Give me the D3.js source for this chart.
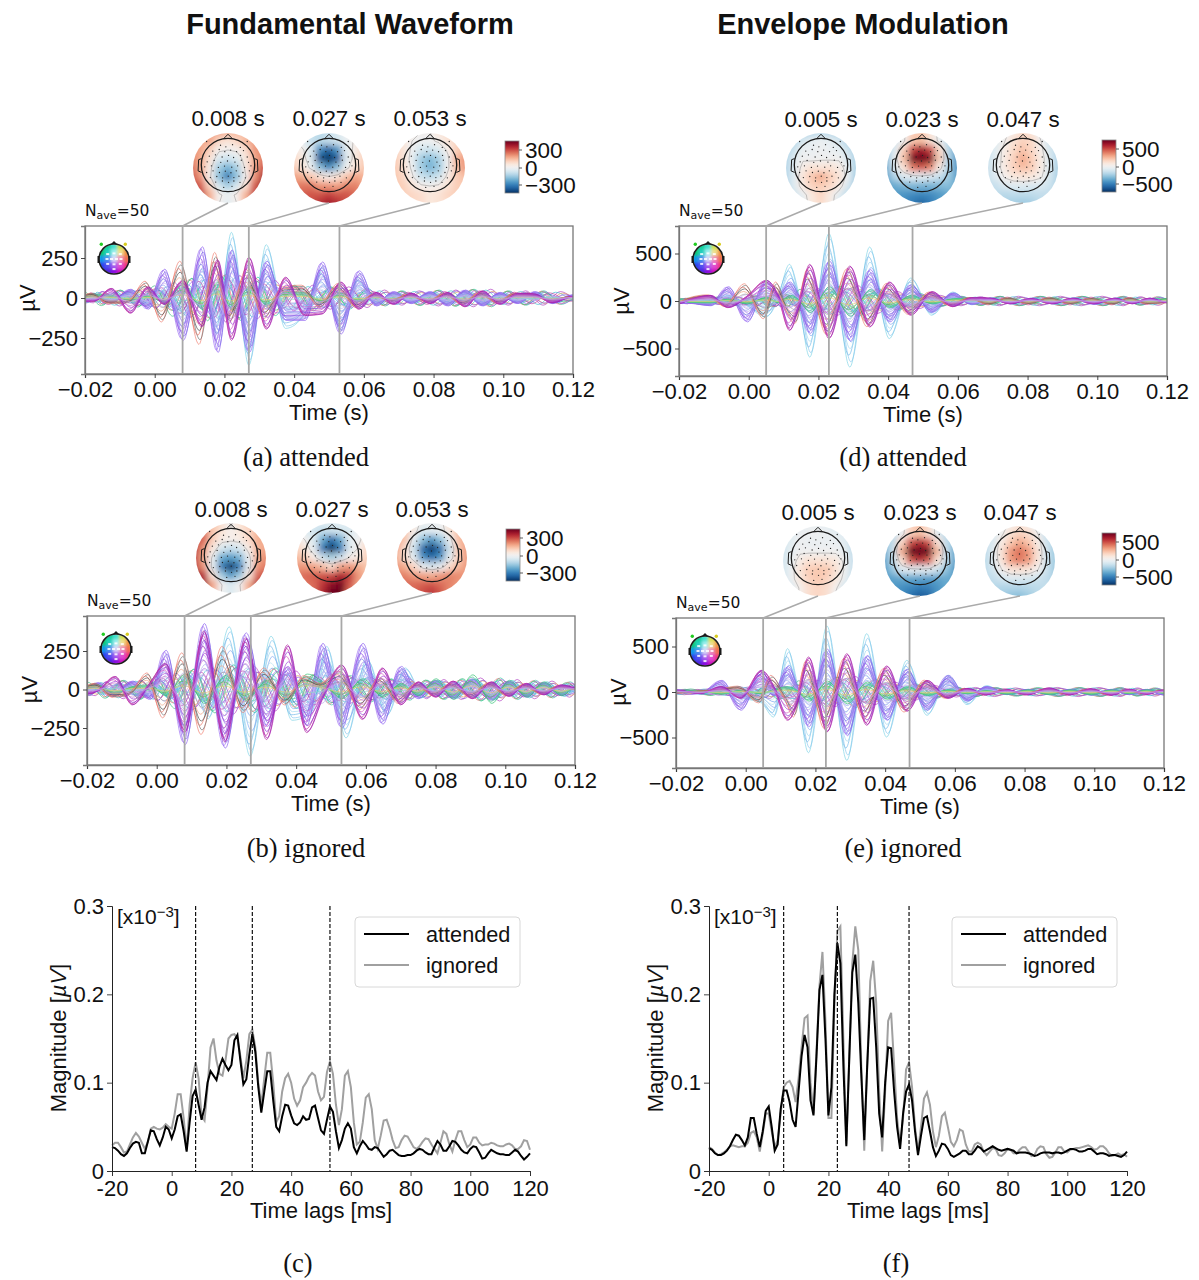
<!DOCTYPE html>
<html>
<head>
<meta charset="utf-8">
<script src="https://cdn.jsdelivr.net/npm/d3@7"></script>
<style>
  body { margin: 0; background: #fff; }
  text { fill: #111; }
</style>
</head>
<body>
<div id="chart"></div>
<script>
// ---- magnitude traces (x10^-3), one value per ms from -20 to 120 ----
const attendedF0 = [
  27,26,23,19,17,20,26,31,33,32,
  20,20,33,46,45,36,29,38,50,47,
  37,47,62,64,45,22,55,85,92,75,
  58,72,100,113,108,103,118,127,120,114,
  120,148,154,125,98,104,132,155,135,95,
  66,90,113,113,80,50,45,62,75,74,
  63,54,52,55,62,58,59,72,74,60,
  46,42,58,73,67,45,26,35,48,54,
  48,27,20,28,34,30,25,24,27,26,
  21,16,19,23,24,21,18,17,17,18,
  18,20,23,25,24,21,19,19,27,34,
  30,23,23,28,34,33,29,24,21,20,
  25,28,27,21,14,15,20,24,22,20,
  19,19,18,18,21,24,22,17,13,16,
  20];
const ignoredF0 = [
  29,32,32,27,21,22,30,38,43,39,
  32,25,33,48,50,48,47,49,53,50,
  48,65,87,87,60,24,75,105,123,105,
  62,57,95,140,150,125,110,108,125,150,
  154,155,150,130,105,125,155,160,140,100,
  75,105,134,134,100,55,62,90,105,110,
  100,82,74,80,95,100,107,111,108,90,
  80,84,112,124,110,75,52,70,108,113,
  95,55,30,33,55,83,87,70,35,25,
  40,57,58,48,35,26,27,35,40,39,
  33,27,25,28,33,37,36,30,25,20,
  32,45,42,30,22,35,45,45,35,27,
  30,38,38,32,29,30,30,32,31,29,
  28,28,30,31,29,25,25,28,35,34,
  24];
const attendedEnv = [
  26,24,20,18,18,20,23,28,35,41,
  40,35,29,38,60,60,42,27,45,68,
  73,50,23,30,70,91,91,78,58,50,
  90,130,154,140,80,63,130,205,222,150,
  63,95,200,258,235,120,28,130,225,245,
  190,110,35,120,195,196,140,65,38,100,
  140,139,90,50,25,65,90,98,80,45,
  18,40,60,62,45,27,17,23,31,30,
  25,18,16,18,20,23,23,19,19,23,
  28,26,22,24,26,28,26,24,23,24,
  25,24,23,20,21,21,21,20,19,17,
  18,20,21,21,21,20,21,21,20,21,
  23,25,25,24,22,22,23,25,25,22,
  19,20,20,19,17,18,18,17,16,18,
  22];
const ignoredEnv = [
  27,25,21,18,19,21,24,28,29,28,
  27,28,28,32,43,45,38,22,42,65,
  65,45,27,35,65,95,100,102,95,78,
  105,140,173,176,100,65,135,210,248,170,
  60,60,190,272,277,150,30,130,235,277,
  250,120,23,120,215,238,190,90,22,90,
  170,179,120,60,30,60,115,123,95,50,
  22,50,82,89,75,45,27,40,62,66,
  50,33,28,35,47,45,30,22,22,30,
  32,30,22,18,22,26,25,18,17,20,
  25,24,20,20,24,27,27,22,17,18,
  25,28,27,19,15,16,21,27,27,22,
  21,24,25,26,26,27,28,29,27,24,
  25,28,28,25,20,17,18,20,18,19,
  16];

// ---- butterfly plots: turning points (ms) and channel-family amplitudes (uV) read at them ----
const knotsA = [-20,-17.5,-12.5,-7,-2,2.7,8,13.5,18,22,27,32,37.5,43,48,53.3,58.5,63.5,68.5,73.5,79,84,89,94,99,104,109,114,120];
const lavenderA = [-25,25,-30,55,-70,180,-265,320,-340,300,-340,230,-140,-140,225,-225,170,-50,40,-35,40,-50,50,-50,35,-35,40,-35,20];
const skyA = [-20,20,-25,45,-40,50,-100,180,-220,410,-420,333,-190,-100,190,-200,130,-40,30,-30,35,-40,45,-45,30,-30,30,-30,15];
const magentaA = [-20,-20,60,-95,70,-40,110,-180,240,-265,255,-195,130,-110,-100,100,-70,35,-40,30,-35,35,-55,45,-40,30,25,-30,10];
const redA = [15,30,-35,-30,105,-150,230,-290,285,-160,180,-130,70,80,-60,90,-60,25,-20,25,-25,30,-40,35,-30,30,25,-20,10];
const greenA = [10,25,15,-15,15,-30,85,-70,100,-75,70,-45,40,35,-30,30,-20,15,-20,20,-25,30,-30,30,-25,20,20,-15,5];
const bandA = [30,-40,50,-50,60,-80,120,-130,150,-140,130,-110,80,-80,70,-70,60,-50,45,-45,50,-50,55,-55,45,-45,45,-40,25];

const knotsB = [-20,-17,-12,-7,-2,2.5,8,13.5,19.5,25.5,31.5,37.5,43,47.5,53,59,64.7,70,75,80,85,90.5,96,101,106,111,116,120];
const lavenderB = [-30,45,-40,55,-65,255,-357,428,-380,368,-240,150,-230,300,-250,300,-225,150,-60,60,-60,70,-70,55,-50,45,-40,20];
const skyB = [15,-20,35,-40,50,-60,120,-190,407,-433,346,-200,-150,280,-315,200,-170,140,-50,55,-50,60,-60,50,-45,40,-40,15];
const magentaB = [-30,-10,85,-100,40,170,-280,380,-340,335,-325,290,-280,-60,160,-195,140,-100,50,-50,55,-60,50,-45,40,-35,30,10];
const redB = [20,40,-50,-30,108,-184,238,-292,280,-150,140,-100,90,40,120,-130,80,-90,40,-40,40,-50,45,-40,35,-30,25,5];
const greenB = [25,30,-30,20,30,-40,100,-90,90,-70,60,-70,100,50,-60,70,-50,40,-40,70,-65,95,-90,60,-50,50,-40,15];
const bandB = [40,-50,60,-60,70,-90,130,-140,160,-150,140,-120,100,-100,90,-80,70,-70,60,-65,65,-75,75,-65,60,-55,50,-45];

const knotsD = [-20,-17,-11,-6,-0.5,5,8.5,11.7,14,17.5,23,29,34.7,40.3,46.5,52.5,58.5,64,69.5,75,81,87,93,99,105,110,115,120];
const lavenderD = [-25,-25,-50,150,-220,218,60,200,60,-340,420,-420,330,-220,170,-120,85,-35,30,-30,30,-30,30,-35,30,-25,30,-15];
const skyD = [-15,-20,-40,60,-50,-168,50,386,100,-590,709,-695,568,-396,242,-150,95,-40,35,-30,30,-30,35,-30,30,-25,25,-15];
const magentaD = [-25,15,60,-70,50,218,50,-310,-100,386,-396,368,-274,200,-150,100,-60,35,30,-30,25,-30,30,-30,30,-30,30,-20];
const redD = [-30,25,65,-60,182,-186,200,-120,-238,330,-350,340,-270,185,-140,95,-50,35,-35,35,-30,35,-30,30,-35,35,-30,-15];
const greenD = [15,-15,-20,20,-30,40,-20,60,20,-120,150,-160,120,-70,60,-30,25,30,-35,30,-30,35,-30,30,-25,25,-25,30];
const bandD = [30,-30,35,-45,50,-60,70,-70,60,-130,150,-160,130,-100,80,-60,50,-45,50,-50,50,-50,50,-50,50,-45,45,-30];

const knotsE = [-20,-13,-7,-1.5,4.5,8,12,14.5,18,23.3,29,34.7,40.4,46.2,52,58,63.5,69,75,81,87,93,99,105,110,115,120];
const lavenderE = [25,-20,128,-200,238,-40,280,60,-380,470,-480,400,-310,250,-200,183,-100,60,-25,30,-30,30,-35,30,-30,30,-35];
const skyE = [20,-25,60,-60,-120,-275,476,100,-667,725,-751,641,-495,348,-256,183,-139,70,-30,30,-30,30,-35,30,-30,25,-30];
const magentaE = [20,-15,60,-70,238,60,-311,-150,385,-440,421,-366,286,-212,128,-70,40,-30,25,-30,45,-30,35,-35,30,-25,20];
const redE = [-10,10,30,65,-120,183,-80,-275,340,-400,370,-300,260,-220,130,-70,40,-25,20,-20,35,-25,30,-30,20,-15,15];
const greenE = [10,15,-25,20,-20,30,60,20,-100,120,-130,110,-80,60,-40,25,-20,15,-25,25,-30,25,-30,25,-20,25,-15];
const bandE = [30,-35,40,-55,70,-70,80,60,-130,160,-170,140,-110,90,-70,55,-50,50,-45,45,-50,50,-50,50,-45,45,-35];

// channel families: relative size, small time offset (ms) and colour of each channel
const lavenderGains = [1,.96,.9,.84,.78,.72,.66,.6,.52,.45,.38,.3,.22,-.14,-.3];
const lavenderShifts = [.2,-.3,.4,0,-.4,.3,-.2,.5,0,-.3,.4,.1,-.5,.2,-.2];
const lavenderColors = ["#8a5cf0","#9b6cf2","#7f6ee8","#a77cf0","#8f4fe6","#b08cf2","#7b7fe8","#9a7cf0","#c0a4f4","#8fa0ee","#b4b0f2","#c8b8f6","#b8a8f0","#a8b8f0","#c0b0f0"];
const skyGains = [1,.92,.82,.72,.62,.5,.4,.3,.2,-.16,-.3];
const skyShifts = [0,.3,-.3,.1,.4,-.2,.3,-.4,.1,0,.3];
const skyColors = ["#7fd4e6","#8ac8ee","#70b8e8","#a0d8f0","#80a8f0","#b0e0ee","#6fa0ec","#c0e6f0","#90c0f0","#b8d8f4","#a8d8e8"];
const magentaGains = [1,.97,.92,.84,.74,.62,.5,.36,.24];
const magentaShifts = [0,.2,-.2,.1,-.3,.3,0,.2,-.2];
const magentaColors = ["#b020a0","#a018b0","#c030a0","#8a30d0","#d050c0","#a040d8","#c870d0","#b080e0","#c8a0e8"];
const redGains = [1,.9,.8,.7,.55,.4];
const redShifts = [-.8,-.5,-1.1,-.7,-.9,-.4];
const redColors = ["#f08070","#707070","#e87060","#4a4a4a","#f0a080","#a0a0a0"];
const greenGains = [1,.85,.7,.55,.4,.25,-.2];
const greenShifts = [.2,0,.4,-.3,.1,-.2,.3];
const greenColors = ["#30c070","#40c888","#50d0a8","#60c050","#90d890","#e0d070","#90d8c8"];
const bandGains = [1,.95,.85,.7,-1,-.9,-.75,-.6,.5,-.45,.8,-.8,.6,-.95];
const bandShifts = [2.6,2,3,1.4,2.4,1,3,-1.4,1.8,-2,-2.4,-.8,.8,-2.8];
const bandColors = ["#30c8a0","#e07070","#a060e8","#60b0f0","#b040c0","#40c0d0","#e0a060","#7060e0","#70d890","#f0a0c0","#9050d8","#c040a0","#50b8e8","#40c080"];

// ---- scalp maps: 9x9 potentials (uV), rows top to bottom ----
const mapA1 = [80,100,120,120,100,100,80,80,80, 100,110,120,60,40,60,100,120,120, 130,120,70,10,0,10,50,130,140, 150,110,40,-40,-60,-40,30,110,160, 170,110,20,-100,-140,-100,20,120,190, 190,130,10,-120,-210,-120,0,130,240, 220,180,60,-50,-100,-50,40,180,260, 240,220,110,10,-20,10,100,210,240, 200,200,100,0,-30,0,100,200,200];
const mapA2 = [-10,-60,-80,-80,-60,-40,-10,10,30, 10,-30,-60,-80,-70,-50,-20,10,40, 30,10,-40,-190,-240,-180,-30,20,60, 60,30,-40,-260,-340,-250,-40,30,70, 80,40,-10,-120,-190,-120,-10,40,80, 120,110,80,40,10,40,80,120,100, 140,160,160,130,130,120,150,150,120, 150,180,190,190,210,190,190,170,130, 130,170,190,230,250,230,190,160,120];
const mapA3 = [60,30,10,0,0,30,50,60,60, 60,30,0,-10,-10,10,40,60,70, 70,40,-10,-50,-60,-40,10,70,90, 80,40,-20,-100,-130,-100,-10,100,130, 80,50,-10,-100,-140,-110,-10,90,130, 80,60,10,-60,-80,-60,20,70,90, 80,70,40,10,0,10,40,70,80, 80,70,60,50,30,40,60,70,70, 70,70,60,50,30,40,50,60,60];
const mapB1 = [120,150,100,40,-10,40,80,80,80, 180,170,80,40,10,30,60,100,90, 210,170,70,20,10,20,50,110,110, 220,130,30,-50,-70,-50,20,100,120, 210,110,-20,-150,-170,-140,-20,110,140, 220,130,-30,-210,-290,-210,-30,130,160, 280,220,40,-100,-170,-110,30,170,210, 270,260,120,0,-40,0,110,230,230, 220,240,100,-10,-40,-10,90,220,200];
const mapB2 = [-20,-50,-50,-30,-30,-30,-40,-10,10, 0,-40,-50,-70,-60,-50,-40,-10,20, 30,0,-40,-150,-230,-160,-30,-10,40, 70,30,-30,-220,-310,-210,-40,10,60, 100,70,20,-60,-100,-60,10,30,70, 130,130,120,90,50,120,130,110,80, 150,170,180,190,200,240,210,130,90, 130,160,170,220,270,290,190,120,80, 100,130,170,240,300,300,170,100,60];
const mapB3 = [80,50,20,-10,-10,-10,40,70,90, 110,80,20,-40,-30,-20,30,90,110, 130,80,-30,-120,-180,-120,-20,90,120, 120,50,-60,-230,-290,-220,-60,80,130, 110,50,-30,-180,-230,-180,-30,70,130, 130,110,60,-20,-50,-20,50,100,130, 150,150,130,120,110,130,150,140,130, 150,170,170,180,190,170,150,130,110, 130,160,170,200,220,190,140,110,90];
const mapD1 = [-200,-190,-170,-150,-130,-150,-170,-190,-200, -190,-150,-80,-40,-30,-40,-80,-150,-190, -170,-100,-30,-30,-20,-30,-40,-100,-170, -160,-70,-10,-20,-10,-10,-10,-70,-160, -150,-70,30,70,60,70,40,-40,-160, -150,-60,60,130,190,120,70,-30,-170, -170,-60,40,110,120,100,40,-70,-190, -200,-100,-30,50,100,40,-40,-130,-200, -220,-170,-60,50,90,40,-70,-170,-220];
const mapD2 = [-120,-90,-20,120,130,60,-40,-120,-180, -130,-80,-10,130,150,70,-30,-130,-220, -170,-60,110,340,420,330,90,-140,-280, -220,-40,150,480,560,460,120,-150,-300, -260,-70,70,260,310,240,30,-160,-300, -270,-150,-70,-50,-40,-70,-110,-180,-280, -280,-250,-230,-220,-230,-230,-220,-210,-260, -260,-290,-300,-320,-330,-320,-290,-260,-240, -220,-280,-320,-360,-400,-350,-290,-240,-200];
const mapD3 = [-70,-50,-20,30,90,60,-30,-100,-120, -90,-60,0,70,110,90,0,-90,-130, -100,-50,30,90,140,100,20,-80,-140, -110,-50,40,110,190,120,40,-70,-150, -110,-40,40,110,150,120,40,-70,-160, -110,-60,10,50,60,50,10,-80,-160, -120,-110,-70,-60,-60,-70,-70,-100,-160, -120,-130,-140,-130,-130,-130,-120,-120,-140, -120,-140,-160,-170,-180,-170,-130,-110,-110];
const mapE1 = [-110,-100,-50,-30,-30,-40,-80,-100,-120, -90,-60,-20,-20,-20,-30,-40,-60,-110, -100,-50,-20,-30,-30,-30,-30,-50,-120, -100,-40,-10,-10,-10,-10,-10,-40,-120, -90,-40,30,70,70,70,50,-20,-110, -90,-30,60,120,130,130,70,-10,-110, -100,-30,50,110,130,110,50,-30,-130, -130,-70,10,80,100,80,10,-80,-160, -160,-120,20,80,100,80,-20,-130,-180];
const mapE2 = [-180,-110,-50,100,140,80,-50,-130,-180, -170,-110,-30,110,150,80,-50,-130,-190, -200,-120,100,320,400,320,80,-120,-230, -260,-110,180,520,600,510,160,-120,-260, -280,-140,70,300,380,300,70,-130,-270, -290,-190,-70,-50,-40,-50,-100,-200,-290, -290,-270,-260,-260,-270,-280,-270,-250,-280, -280,-290,-310,-330,-350,-340,-300,-260,-250, -240,-280,-320,-380,-420,-400,-300,-240,-210];
const mapE3 = [-70,-50,-30,20,60,30,-40,-110,-140, -90,-70,-10,70,110,80,0,-110,-160, -120,-70,40,130,190,140,40,-90,-170, -140,-60,70,220,280,220,70,-90,-180, -140,-70,60,210,260,210,60,-90,-180, -130,-90,0,60,70,60,0,-100,-180, -130,-120,-90,-70,-70,-80,-100,-120,-170, -130,-140,-150,-150,-150,-140,-130,-120,-140, -120,-150,-180,-200,-210,-180,-140,-110,-110];

// electrode positions, head radius = 1
const sensors = [[-.8,-.88],[.72,-.88],
  [-.28,-.74],[-.08,-.68],[.17,-.76],[.46,-.66],
  [-.57,-.52],[-.33,-.58],[-.12,-.5],[.1,-.56],[.32,-.5],[.58,-.54],
  [-.7,-.33],[-.47,-.38],[-.22,-.3],[.02,-.36],[.21,-.28],[.47,-.36],[.72,-.3],
  [-.78,-.12],[-.52,-.17],[-.27,-.1],[-.02,-.15],[.26,-.11],[.5,-.18],[.77,-.1],
  [-.87,.07],[-.62,.03],[-.36,.09],[-.13,.04],[.14,.08],[.36,.03],[.62,.09],[.86,.03],
  [-.8,.28],[-.56,.22],[-.32,.28],[-.1,.23],[.11,.29],[.31,.22],[.56,.28],[.8,.22],
  [-.66,.47],[-.42,.43],[-.2,.48],[.01,.42],[.22,.47],[.41,.42],[.65,.48],
  [-.46,.64],[-.21,.6],[.02,.65],[.22,.6],[.45,.65],
  [-.16,.84],[.15,.8]];

// small channel-colour head
const insetColors = [
  "#10d050","#10d098","#40e0d0","#d0e040","#e8c020",
  "#10c870","#20d0c0","#a0f0f0","#f0e090","#f09040",
  "#1098e8","#4890f0","#d8d8f8","#f088b8","#f07050",
  "#2040f0","#5050f0","#a860f0","#e050d0","#f03078",
  "#2020e0","#5020e0","#8810e0","#d010c0","#e01088"];
const insetMarks = [[-.45,-.35],[0,-.4],[.45,-.35],[-.5,0],[-.18,0],[.18,0],[.5,0],[-.45,.35],[0,.38],[.45,.35],[0,.72]];

const timeTicks = [-0.02,0,0.02,0.04,0.06,0.08,0.1,0.12];
const lagTicks = [-20,0,20,40,60,80,100,120];
const magTicks = [0,100,200,300];
const magLabels = ["0","0.1","0.2","0.3"];

const svg = d3.select("#chart").append("svg")
  .attr("width", 1199).attr("height", 1280)
  .attr("font-family", "Liberation Sans")
  .style("display", "block");

const defs = svg.append("defs");
defs.append("filter").attr("id", "soft")
  .attr("filterUnits", "userSpaceOnUse").attr("x", 0).attr("y", 0).attr("width", 1199).attr("height", 1280)
  .append("feGaussianBlur").attr("stdDeviation", 0.4);
defs.append("filter").attr("id", "smear")
  .attr("x", "-20%").attr("y", "-20%").attr("width", "140%").attr("height", "140%")
  .append("feGaussianBlur").attr("stdDeviation", 3);
defs.append("filter").attr("id", "smearSmall")
  .attr("x", "-20%").attr("y", "-20%").attr("width", "140%").attr("height", "140%")
  .append("feGaussianBlur").attr("stdDeviation", 1.6);
defs.append("clipPath").attr("id", "discClip").append("circle").attr("r", 35);
defs.append("clipPath").attr("id", "insetClip").append("circle").attr("r", 14.5);

function styleAxis(g) {
  g.selectAll(".domain").attr("stroke", "#777").attr("stroke-width", 1.3);
  g.selectAll(".tick line").attr("stroke", "#333").attr("stroke-width", 0.9);
  g.selectAll(".tick text").attr("font-size", 22).attr("font-family", "Liberation Sans");
}

function drawHead(g, r) {
  g.append("circle").attr("r", r).attr("fill", "none").attr("stroke", "#1a1a1a").attr("stroke-width", 1.3);
  g.append("path").attr("fill", "none").attr("stroke", "#1a1a1a").attr("stroke-width", 1)
    .attr("d", `M${-r * 0.17},${-r * 0.98} L0,${-r * 1.15} L${r * 0.17},${-r * 0.98}`);
  [-1, 1].forEach(s => {
    g.append("path").attr("fill", "none").attr("stroke", "#1a1a1a").attr("stroke-width", 1)
      .attr("d", `M${s * r * 0.99},${-r * 0.24} L${s * r * 1.1},${-r * 0.2} L${s * r * 1.12},${r * 0.22} L${s * r * 0.99},${r * 0.28}`);
  });
}

function drawTopo(cx, cy, grid, maxV, t, titleY, boxTop, xPos) {
  const cell = 9;
  const color = d3.scaleDiverging([maxV, 0, -maxV], d3.interpolateRdBu);
  const g = svg.append("g").attr("transform", `translate(${cx},${cy})`);
  const disc = g.append("g").attr("clip-path", "url(#discClip)");
  const cells = disc.append("g").attr("filter", "url(#smear)");
  cells.selectAll("rect").data(grid).enter().append("rect")
    .attr("x", (d, i) => ((i % 9) - 4.5) * cell - 0.5)
    .attr("y", (d, i) => (Math.floor(i / 9) - 4.5) * cell - 0.5)
    .attr("width", cell + 1).attr("height", cell + 1)
    .attr("fill", d => color(d));
  const contour = d3.contours().size([9, 9]).smooth(true).thresholds([0]);
  disc.selectAll("path.zero").data(contour(grid)).enter().append("path")
    .attr("class", "zero")
    .attr("transform", `translate(${-4.5 * cell},${-4.5 * cell}) scale(${cell})`)
    .attr("d", d3.geoPath())
    .attr("fill", "none").attr("stroke", "#555").attr("stroke-width", 0.05).attr("opacity", 0.7);
  const r = 26.7;
  const head = g.append("g").attr("transform", "translate(0,-3)");
  drawHead(head, r);
  head.selectAll("circle.s").data(sensors).enter().append("circle")
    .attr("class", "s")
    .attr("cx", d => d[0] * r).attr("cy", d => d[1] * r).attr("r", 0.65)
    .attr("fill", "#222");
  svg.append("text").attr("x", cx).attr("y", titleY)
    .attr("text-anchor", "middle").attr("font-size", 22.3).text(`${t.toFixed(3)} s`);
  svg.append("line")
    .attr("x1", cx).attr("y1", cy + 35).attr("x2", xPos(t)).attr("y2", boxTop)
    .attr("stroke", "#aaa").attr("stroke-width", 1.5);
}

function drawColorbar(id, x0, y0, tickTop, tickMid, tickBottom, labels) {
  const w = 14, h = 52;
  const grad = defs.append("linearGradient").attr("id", id).attr("x1", 0).attr("y1", 0).attr("x2", 0).attr("y2", 1);
  d3.range(0, 1.001, 0.05).forEach(u => {
    grad.append("stop").attr("offset", u).attr("stop-color", d3.interpolateRdBu(u));
  });
  svg.append("rect").attr("x", x0).attr("y", y0).attr("width", w).attr("height", h)
    .attr("fill", `url(#${id})`).attr("stroke", "#8a8a8a").attr("stroke-width", 0.8);
  [tickTop, tickMid, tickBottom].forEach((ty, i) => {
    svg.append("line").attr("x1", x0 + w).attr("x2", x0 + w + 3).attr("y1", ty).attr("y2", ty)
      .attr("stroke", "#333").attr("stroke-width", 0.8);
    svg.append("text").attr("x", x0 + w + 6).attr("y", ty).attr("dy", "0.36em")
      .attr("font-size", 22.5).text(labels[i]);
  });
}

function drawInset(cx, cy) {
  const g = svg.append("g").attr("transform", `translate(${cx},${cy})`);
  const wheel = g.append("g").attr("clip-path", "url(#insetClip)").append("g").attr("filter", "url(#smearSmall)");
  wheel.selectAll("rect").data(insetColors).enter().append("rect")
    .attr("x", (d, i) => ((i % 5) - 2.5) * 6.4)
    .attr("y", (d, i) => (Math.floor(i / 5) - 2.5) * 6.4)
    .attr("width", 6.9).attr("height", 6.9)
    .attr("fill", d => d);
  g.selectAll("rect.w").data(insetMarks).enter().append("rect")
    .attr("class", "w").attr("x", d => d[0] * 14 - 1.5).attr("y", d => d[1] * 14 - 1)
    .attr("width", 3).attr("height", 2)
    .attr("fill", "#fff").attr("opacity", 0.85);
  g.append("circle").attr("r", 15).attr("fill", "none").attr("stroke", "#1a1a1a").attr("stroke-width", 1.5);
  g.append("path").attr("fill", "#1a1a1a").attr("d", "M-3,-15 L0,-18 L3,-15Z");
  [-1, 1].forEach(s => {
    g.append("rect").attr("x", s > 0 ? 14.5 : -16.5).attr("y", -3).attr("width", 2).attr("height", 7).attr("fill", "#1a1a1a");
  });
  g.append("circle").attr("cx", -12.7).attr("cy", -14.7).attr("r", 1.7).attr("fill", "#22cc22");
  g.append("circle").attr("cx", 11.3).attr("cy", -14.7).attr("r", 1.7).attr("fill", "#d8cc20");
}

function drawButterfly(p) {
  const x = d3.scaleLinear().domain([-0.02, 0.12]).range([p.left, p.left + 488]);
  const y = d3.scaleLinear().domain([-p.uvPerPx * (p.bottom - p.zero), p.uvPerPx * (p.zero - p.top)]).range([p.bottom, p.top]);
  const line = d3.line().curve(d3.curveMonotoneX)
    .x(d => x(d[0] / 1000)).y(d => y(d[1]));
  const clipId = "box" + p.id;
  defs.append("clipPath").attr("id", clipId).append("rect")
    .attr("x", p.left).attr("y", p.top).attr("width", 488).attr("height", p.bottom - p.top);
  const lines = svg.append("g").attr("clip-path", `url(#${clipId})`).append("g").attr("filter", "url(#soft)");
  const families = [
    [p.sky, skyGains, skyShifts, skyColors, p.skyOffset],
    [p.band, bandGains, bandShifts, bandColors, 0],
    [p.lavender, lavenderGains, lavenderShifts, lavenderColors, 0],
    [p.green, greenGains, greenShifts, greenColors, 0],
    [p.red, redGains, redShifts, redColors, 0],
    [p.magenta, magentaGains, magentaShifts, magentaColors, 0]
  ];
  const last = p.knots.length - 1;
  families.forEach(([vals, gains, shifts, colors, offset]) => {
    gains.forEach((gain, i) => {
      const pts = p.knots.map((t, k) => [t + shifts[i] + offset, vals[k] * gain]);
      // run past both box edges so shifted channels still reach the frame; the clip trims them
      pts.unshift([p.knots[0] - 5 + shifts[i] + offset, -vals[0] * gain]);
      pts.push([p.knots[last] + 5 + shifts[i] + offset, -vals[last] * gain]);
      lines.append("path").attr("d", line(pts))
        .attr("fill", "none").attr("stroke", colors[i])
        .attr("stroke-width", 0.85).attr("opacity", 0.8);
    });
  });
  svg.append("rect").attr("x", p.left).attr("y", p.top).attr("width", 488).attr("height", p.bottom - p.top)
    .attr("fill", "none").attr("stroke", "#777").attr("stroke-width", 1.3);
  p.times.forEach(t => {
    svg.append("line").attr("x1", x(t)).attr("x2", x(t)).attr("y1", p.top).attr("y2", p.bottom)
      .attr("stroke", "#a8a8a8").attr("stroke-width", 1.8);
  });
  svg.append("g").attr("transform", `translate(0,${p.bottom})`)
    .call(d3.axisBottom(x).tickValues(timeTicks).tickFormat(d3.format(".2f")).tickSize(4).tickPadding(3))
    .call(styleAxis);
  svg.append("g").attr("transform", `translate(${p.left},0)`)
    .call(d3.axisLeft(y).tickValues(p.yTicks).tickFormat(d3.format("d")).tickSize(4).tickPadding(3))
    .call(styleAxis);
  svg.append("text").attr("x", p.left + 244).attr("y", p.bottom + 46)
    .attr("text-anchor", "middle").attr("font-size", 22).text("Time (s)");
  svg.append("text").attr("transform", `translate(${p.left - 58},${p.zero}) rotate(-90)`)
    .attr("text-anchor", "middle").attr("font-size", 22).attr("dy", "0.36em").text("µV");
  const nave = svg.append("text").attr("x", p.left).attr("y", p.top - 10)
    .attr("font-family", "DejaVu Sans").attr("font-size", 15.5).text("N");
  nave.append("tspan").attr("dy", 3).attr("font-size", 11).text("ave");
  nave.append("tspan").attr("dy", -3).text("=50");
  drawInset(p.left + 29, p.top + 33);
  p.times.forEach((t, i) => {
    drawTopo(p.topoX[i], p.topoY, p.maps[i], p.mapMax, t, p.titleY, p.top, x);
  });
  drawColorbar("cb" + p.id, p.cbX, p.cbY, p.cbY + 9, p.cbY + 27, p.cbY + 44, p.cbLabels);
}

function drawTraces(p) {
  const x = d3.scaleLinear().domain([-20, 120]).range([p.left, p.left + 418]);
  const y = d3.scaleLinear().domain([0, 300]).range([1171, 906]);
  const line = d3.line().x((d, i) => x(i - 20)).y(d => y(d));
  const g = svg.append("g").attr("filter", "url(#soft)");
  g.append("path").attr("d", line(p.ignored)).attr("fill", "none").attr("stroke", "#a0a0a0").attr("stroke-width", 2);
  g.append("path").attr("d", line(p.attended)).attr("fill", "none").attr("stroke", "#000").attr("stroke-width", 2);
  p.peaks.forEach(t => {
    svg.append("line").attr("x1", x(t)).attr("x2", x(t)).attr("y1", 906).attr("y2", 1171)
      .attr("stroke", "#111").attr("stroke-width", 1.2).attr("stroke-dasharray", "4,2");
  });
  const ax = svg.append("g").attr("transform", "translate(0,1171)")
    .call(d3.axisBottom(x).tickValues(lagTicks).tickFormat(String).tickSize(5).tickPadding(4))
    .call(styleAxis);
  const ay = svg.append("g").attr("transform", `translate(${p.left},0)`)
    .call(d3.axisLeft(y).tickValues(magTicks).tickFormat((d, i) => magLabels[i]).tickSize(5).tickPadding(3))
    .call(styleAxis);
  [ax, ay].forEach(a => a.selectAll(".domain").attr("stroke", "#222").attr("stroke-width", 1));
  svg.append("text").attr("x", p.left + 209).attr("y", 1218)
    .attr("text-anchor", "middle").attr("font-size", 22).text("Time lags [ms]");
  const yl = svg.append("text").attr("transform", `translate(${p.left - 54},1038) rotate(-90)`)
    .attr("text-anchor", "middle").attr("font-size", 22).attr("dy", "0.36em").text("Magnitude [");
  yl.append("tspan").attr("font-style", "italic").text("µV");
  yl.append("tspan").text("]");
  const scaleLabel = svg.append("text").attr("x", p.left + 5).attr("y", 924).attr("font-size", 21).text("[x10");
  scaleLabel.append("tspan").attr("dy", -7).attr("font-size", 15).text("−3");
  scaleLabel.append("tspan").attr("dy", 7).text("]");
  const lx = p.left + 243;
  svg.append("rect").attr("x", lx).attr("y", 917).attr("width", 165).attr("height", 70).attr("rx", 4)
    .attr("fill", "#fff").attr("stroke", "#d8d8d8").attr("stroke-width", 1);
  [["attended", "#000", 934], ["ignored", "#a0a0a0", 965]].forEach(([label, color, ly]) => {
    svg.append("line").attr("x1", lx + 9).attr("x2", lx + 54).attr("y1", ly).attr("y2", ly)
      .attr("stroke", color).attr("stroke-width", 2);
    svg.append("text").attr("x", lx + 71).attr("y", ly).attr("dy", "0.36em").attr("font-size", 21.7).text(label);
  });
}

// Fundamental waveform column
drawButterfly({ id: "a", left: 85, top: 226, bottom: 374, zero: 298, uvPerPx: 1 / 0.16, yTicks: [-250, 0, 250],
  knots: knotsA, lavender: lavenderA, sky: skyA, magenta: magentaA, red: redA, green: greenA, band: bandA, skyOffset: 0,
  times: [0.008, 0.027, 0.053], topoX: [228, 329, 430], topoY: 168, titleY: 126, maps: [mapA1, mapA2, mapA3], mapMax: 300,
  cbX: 505, cbY: 141, cbLabels: ["300", "0", "−300"] });
drawButterfly({ id: "b", left: 87, top: 616, bottom: 765, zero: 689.5, uvPerPx: 1 / 0.154, yTicks: [-250, 0, 250],
  knots: knotsB, lavender: lavenderB, sky: skyB, magenta: magentaB, red: redB, green: greenB, band: bandB, skyOffset: 1.3,
  times: [0.008, 0.027, 0.053], topoX: [231, 332, 432], topoY: 558, titleY: 517, maps: [mapB1, mapB2, mapB3], mapMax: 300,
  cbX: 506, cbY: 529, cbLabels: ["300", "0", "−300"] });
drawTraces({ left: 112, attended: attendedF0, ignored: ignoredF0, peaks: [8, 27, 53] });

// Envelope modulation column
drawButterfly({ id: "d", left: 679, top: 226, bottom: 376, zero: 301, uvPerPx: 1 / 0.095, yTicks: [-500, 0, 500],
  knots: knotsD, lavender: lavenderD, sky: skyD, magenta: magentaD, red: redD, green: greenD, band: bandD, skyOffset: 0,
  times: [0.005, 0.023, 0.047], topoX: [821, 922, 1023], topoY: 168, titleY: 127, maps: [mapD1, mapD2, mapD3], mapMax: 500,
  cbX: 1102, cbY: 140, cbLabels: ["500", "0", "−500"] });
drawButterfly({ id: "e", left: 676, top: 618, bottom: 768, zero: 692, uvPerPx: 1 / 0.091, yTicks: [-500, 0, 500],
  knots: knotsE, lavender: lavenderE, sky: skyE, magenta: magentaE, red: redE, green: greenE, band: bandE, skyOffset: 0,
  times: [0.005, 0.023, 0.047], topoX: [818, 920, 1020], topoY: 561, titleY: 520, maps: [mapE1, mapE2, mapE3], mapMax: 500,
  cbX: 1102, cbY: 533, cbLabels: ["500", "0", "−500"] });
drawTraces({ left: 709, attended: attendedEnv, ignored: ignoredEnv, peaks: [5, 23, 47] });

// column titles and sub-captions
[["Fundamental Waveform", 350], ["Envelope Modulation", 863]].forEach(([t, cx]) => {
  svg.append("text").attr("x", cx).attr("y", 34).attr("text-anchor", "middle")
    .attr("font-size", 29).attr("font-weight", "bold").text(t);
});
[["(a) attended", 306, 466], ["(d) attended", 903, 466], ["(b) ignored", 306, 857],
 ["(e) ignored", 903, 857], ["(c)", 298, 1272], ["(f)", 896, 1272]].forEach(([t, cx, ty]) => {
  svg.append("text").attr("x", cx).attr("y", ty).attr("text-anchor", "middle")
    .attr("font-family", "Liberation Serif").attr("font-size", 26.5).text(t);
});
</script>
</body>
</html>
